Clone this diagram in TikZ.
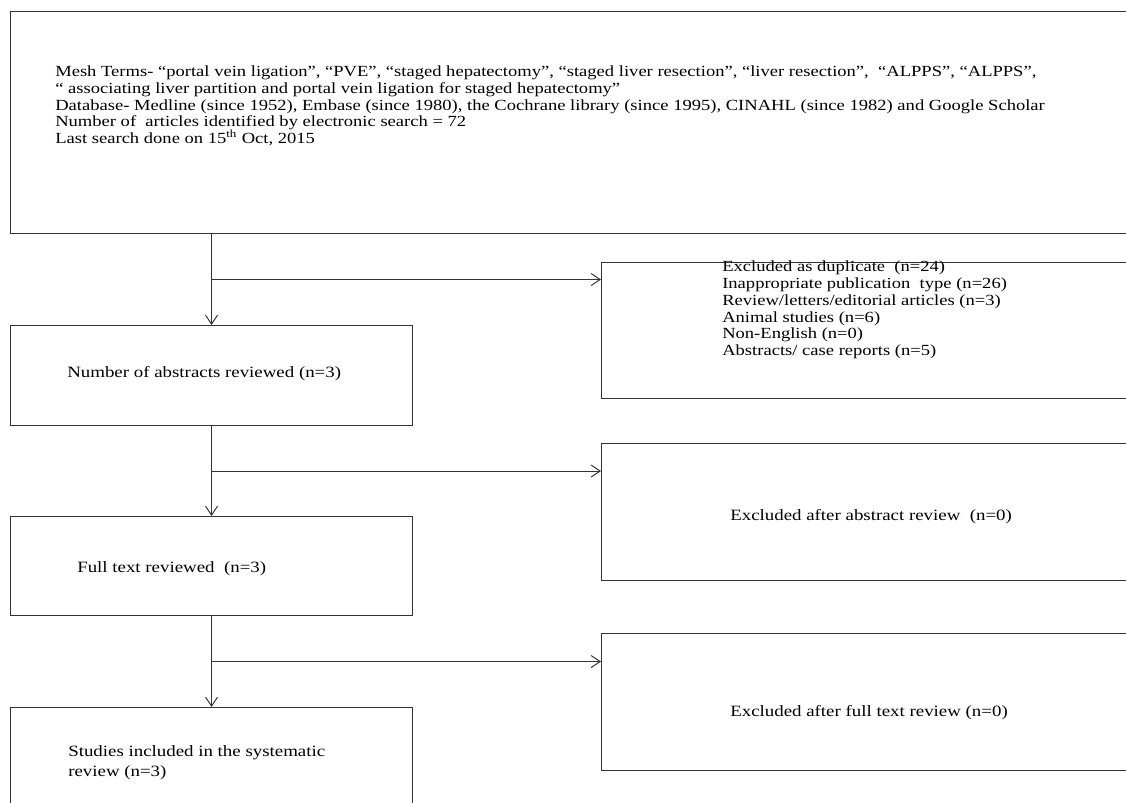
\documentclass[tikz,border=0pt]{standalone}
\usepackage{fontspec}
\setmainfont{Liberation Serif}[FakeStretch=1.2]
\usetikzlibrary{arrows.meta,positioning,calc}

\begin{document}
\begin{tikzpicture}[x=0.75pt, y=-0.75pt,
  box/.style={draw=black!80, line width=0.8pt, anchor=north west,
              minimum width=#1, inner sep=0pt},
  box/.default=301.5pt,
  txt/.style={font=\fontsize{11.8}{15}\selectfont, anchor=west,
              align=left, inner sep=0pt},
  tight/.style={txt, font=\fontsize{11.6}{12.6}\selectfont},
  flow/.style={draw=black!80, line width=0.75pt,
               -{Straight Barb[length=6.75pt,width=9pt]}},
]
\useasboundingbox (0,0) rectangle (1126,802);
\clip (0,0) rectangle (1126,802);

% Search box
\node[box=855pt, minimum height=166.5pt] (search) at (10,11) {};
\node[tight] (searchtxt) at (55,106)
  {Mesh Terms- ``portal vein ligation'', ``PVE'', ``staged hepatectomy'', ``staged liver resection'', ``liver resection'', \ ``ALPPS'', ``ALPPS'',\\
   `` associating liver partition and portal vein ligation for staged hepatectomy''\\
   Database- Medline (since 1952), Embase (since 1980), the Cochrane library (since 1995), CINAHL (since 1982) and Google Scholar\\
   Number of \ articles identified by electronic search = 72\\
   Last search done on 15\textsuperscript{th} Oct, 2015};

% Stage 1: abstracts
\node[box, minimum height=75pt] (abs) at (10,325) {};
\node[txt] (abstxt) at (67,374) {Number of abstracts reviewed (n=3)};
\node[box=420pt, minimum height=102pt] (dup) at (601,262) {};
\node[tight] (duptxt) at (722,310)
  {Excluded as duplicate \ (n=24)\\
   Inappropriate publication \ type (n=26)\\
   Review/letters/editorial articles (n=3)\\
   Animal studies (n=6)\\
   Non-English (n=0)\\
   Abstracts/ case reports (n=5)};

% Stage 2: full text
\node[box, minimum height=74.25pt] (full) at (10,516) {};
\node[txt] (fulltxt) at (77,569) {Full text reviewed \ (n=3)};
\node[box=420pt, minimum height=102.75pt] (exabs) at (601,443) {};
\node[txt] (exabstxt) at (730,517) {Excluded after abstract review \ (n=0)};

% Stage 3: included
\node[box, minimum height=90pt] (incl) at (10,707) {};
\node[txt] (incltxt) at (68,763) {Studies included in the systematic\\review (n=3)};
\node[box=420pt, minimum height=102.75pt] (exfull) at (601,633) {};
\node[txt] (exfulltxt) at (730,713) {Excluded after full text review (n=0)};

% Connectors
\coordinate (j1) at ($(search.south -| abs.north)!0.5!(abs.north)$);
\coordinate (j2) at ($(abs.south)!0.5!(full.north)$);
\coordinate (j3) at ($(full.south)!0.5!(incl.north)$);
\draw[flow] (search.south -| abs.north) -- (abs.north);
\draw[flow] (j1) -- (j1 -| dup.west);
\draw[flow] (abs.south) -- (full.north);
\draw[flow] (j2) -- (j2 -| exabs.west);
\draw[flow] (full.south) -- (incl.north);
\draw[flow] (j3) -- (j3 -| exfull.west);
\end{tikzpicture}
\end{document}
